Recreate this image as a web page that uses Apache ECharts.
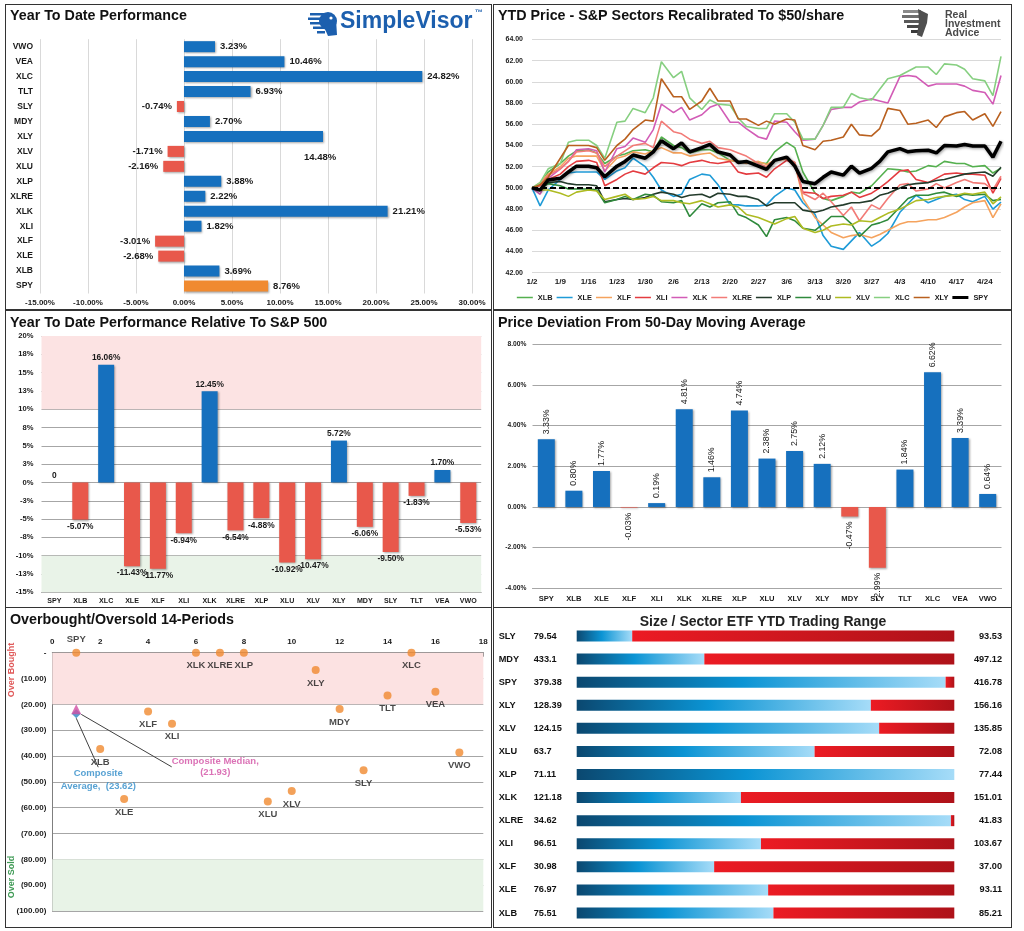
<!DOCTYPE html>
<html><head><meta charset="utf-8">
<script src="https://cdn.jsdelivr.net/npm/echarts/dist/echarts.min.js"></script>
<style>
html,body{margin:0;padding:0;background:#fff;width:1024px;height:931px;overflow:hidden}
.c{position:absolute}
.f{position:absolute;border:1.5px solid #333;box-sizing:border-box;pointer-events:none;z-index:5}
</style></head><body>
<div id="p1" class="c" style="left:6px;top:5px;width:485px;height:304px"></div>
<div id="p2" class="c" style="left:494px;top:5px;width:517px;height:304px"></div>
<div id="p3" class="c" style="left:6px;top:311px;width:485px;height:296px"></div>
<div id="p4" class="c" style="left:494px;top:311px;width:517px;height:296px"></div>
<div id="p5" class="c" style="left:6px;top:608px;width:485px;height:319px"></div>
<div id="p6" class="c" style="left:494px;top:608px;width:517px;height:319px"></div>
<div class="f" style="left:5px;top:4px;width:487px;height:306px"></div>
<div class="f" style="left:493px;top:4px;width:519px;height:306px"></div>
<div class="f" style="left:5px;top:310px;width:487px;height:298px"></div>
<div class="f" style="left:493px;top:310px;width:519px;height:298px"></div>
<div class="f" style="left:5px;top:607px;width:487px;height:321px"></div>
<div class="f" style="left:493px;top:607px;width:519px;height:321px"></div>
<script>
// ---------- DATA ----------
// Panel 1: Year To Date Performance (bottom -> top)
const ytdCats = ['SPY','XLB','XLE','XLF','XLI','XLK','XLRE','XLP','XLU','XLV','XLY','MDY','SLY','TLT','XLC','VEA','VWO'];
const ytdVals = [8.76,3.69,-2.68,-3.01,1.82,21.21,2.22,3.88,-2.16,-1.71,14.48,2.70,-0.74,6.93,24.82,10.46,3.23];

// Panel 2: YTD Price recalibrated to $50
const priceTickLabels = ['1/2','1/9','1/16','1/23','1/30','2/6','2/13','2/20','2/27','3/6','3/13','3/20','3/27','4/3','4/10','4/17','4/24'];
const priceDays = [0,2,4,7,9,11,14,16,18,21,23,25,28,30,32,35,37,39,42,44,46,49,51,53,56,58,60,63,65,67,70,72,74,77,79,81,84,86,88,91,93,95,98,100,102,105,107,109,112,114,116];
const sectorNames = ['XLB','XLE','XLF','XLI','XLK','XLRE','XLP','XLU','XLV','XLC','XLY','SPY'];
const xlb  = [50,50.3,51.5,52.3,53.0,53.5,53.6,53.3,52.3,53.0,53.2,53.5,53.6,53.4,54.8,54.0,53.8,53.3,53.6,53.6,53.3,52.6,52.5,52.4,52.4,52.3,53.4,54.3,53.8,51.5,49.5,49.0,48.8,49.2,49.6,49.5,50.2,51.0,51.8,51.7,51.5,51.6,52.1,52.0,52.5,52.3,52.3,52.0,52.1,51.4,51.85];
const xle  = [50,48.3,49.8,50.8,51.4,51.5,51.5,51.5,50.8,51.6,51.9,52.8,52.0,51.0,49.8,49.2,49.4,50.8,51.3,51.2,50.3,48.4,48.4,48.3,48.3,48.4,49.2,50.0,49.8,48.6,47.5,45.5,44.5,44.2,45.0,45.8,44.5,45.0,45.7,47.7,48.5,49.3,48.6,48.9,49.2,49.4,48.9,48.7,49.2,48.0,48.66];
const xlf  = [50,50.5,51.3,52.0,52.8,53.0,53.0,53.0,51.6,52.8,53.0,53.4,53.2,53.5,53.8,53.3,53.3,53.0,53.2,53.3,52.8,52.6,52.5,52.3,52.5,52.2,52.6,52.7,52.4,49.0,47.2,46.5,45.8,45.3,45.5,45.6,45.3,45.6,46.0,46.6,46.8,46.8,47.0,47.0,47.2,47.7,48.2,48.6,48.8,47.2,48.5];
const xli  = [50,50.2,50.8,51.3,52.0,52.5,52.6,52.4,50.2,50.8,51.3,51.6,51.3,51.9,52.4,52.3,52.1,52.4,52.6,52.4,52.3,52.5,51.5,51.3,51.4,51.0,51.8,52.6,52.2,49.6,49.5,49.0,49.2,49.3,49.6,49.1,49.5,50.0,50.6,51.6,51.7,50.8,50.5,50.9,51.3,51.4,51.3,51.3,51.2,49.5,50.9];
const xlk  = [50,49.4,50.9,51.8,52.5,53.6,53.7,53.5,51.5,53.7,53.9,54.7,54.3,55.5,57.9,57.1,57.6,56.4,56.9,57.6,57.9,56.2,56.2,55.6,54.8,54.6,56.3,56.2,55.3,54.5,54.6,55.9,57.4,57.6,57.6,58.1,58.4,58.2,58.0,60.5,60.6,60.5,59.6,59.8,59.8,59.8,59.6,59.2,59.0,57.9,60.6];
const xlre = [50,50.3,51.2,51.8,52.5,53.4,53.5,53.3,52.0,53.0,53.5,54.0,54.2,53.8,56.3,55.3,55.1,54.6,54.2,54.4,53.8,53.6,53.3,53.0,52.3,52.0,52.6,52.8,52.4,49.5,48.9,49.5,48.7,47.4,48.2,46.9,48.4,48.0,49.0,50.3,50.4,49.7,49.9,50.4,50.0,50.5,50.8,50.5,50.4,49.8,51.1];
const xlp  = [50,49.8,50.5,50.6,50.4,50.3,50.3,50.2,48.7,48.9,49.0,48.9,49.1,49.4,49.6,49.4,49.1,49.3,49.4,49.1,49.5,49.4,49.2,49.2,48.9,48.3,48.6,48.6,48.6,47.9,47.7,47.9,48.2,48.4,48.6,48.6,48.8,49.3,49.5,50.0,50.3,50.4,50.5,50.7,50.8,51.1,51.3,51.4,51.5,51.1,51.94];
const xlu  = [50,49.9,50.4,50.2,49.9,49.9,49.9,49.8,48.6,48.9,49.2,48.9,49.4,49.3,48.7,48.6,48.8,47.3,48.5,48.2,48.6,48.7,47.5,47.2,46.5,45.4,47.0,47.2,46.9,46.2,46.0,46.6,47.3,47.3,46.6,45.4,46.5,46.7,47.0,48.2,49.0,49.3,49.3,49.5,49.6,49.2,49.4,49.3,49.4,48.8,48.92];
const xlv  = [50,49.8,49.8,49.5,49.2,49.6,49.8,49.7,48.9,49.2,49.4,48.9,49.0,49.2,48.8,48.8,48.6,48.5,48.8,48.5,48.2,48.4,48.2,47.5,47.2,46.9,46.6,47.1,47.3,46.2,45.8,46.0,46.4,46.6,46.5,46.9,46.8,47.2,47.6,48.0,48.4,48.8,48.9,49.1,49.2,49.3,49.5,49.4,49.6,48.5,49.15];
const xlc  = [50,50.5,51.8,52.3,54.3,54.5,54.5,54.0,52.8,56.2,56.3,57.5,57.1,58.5,61.9,60.4,61.0,58.5,57.4,58.3,57.9,57.8,56.6,55.8,55.6,55.6,57.0,57.0,56.2,54.6,54.6,55.9,57.6,57.6,58.9,58.5,58.3,59.3,60.3,60.6,61.0,61.4,61.4,60.7,61.7,61.6,61.2,60.3,60.1,58.7,62.4];
const xly  = [50,50.3,51.0,52.8,54.0,54.0,54.0,53.8,52.6,54.0,54.6,55.5,56.4,56.3,60.3,58.6,58.6,57.4,58.2,59.4,58.2,58.2,56.5,56.5,55.9,56.3,56.0,56.5,56.4,54.0,53.6,54.4,54.5,54.8,56.0,55.0,54.9,55.6,57.5,57.3,56.0,56.1,56.4,55.7,56.7,57.1,57.2,56.4,57.0,55.8,57.2];
const spy  = [50,49.8,50.75,50.9,51.5,52.05,52.05,51.9,51.05,52.05,52.5,53.1,52.8,53.4,54.45,53.7,54.25,53.4,53.8,54.1,53.4,53.1,52.4,52.5,52.05,51.75,52.6,52.9,52.05,50.6,50.4,51.0,51.5,51.2,52.05,51.4,51.85,52.5,53.4,53.7,53.4,53.5,53.55,53.3,54.0,53.95,54.1,53.95,53.95,52.9,54.4];
const baseline = 50;

// Panel 3: YTD relative to S&P 500
const relCats = ['SPY','XLB','XLC','XLE','XLF','XLI','XLK','XLRE','XLP','XLU','XLV','XLY','MDY','SLY','TLT','VEA','VWO'];
const relVals = [0,-5.07,16.06,-11.43,-11.77,-6.94,12.45,-6.54,-4.88,-10.92,-10.47,5.72,-6.06,-9.50,-1.83,1.70,-5.53];

// Panel 4: Price deviation from 50-day MA
const devCats = ['SPY','XLB','XLE','XLF','XLI','XLK','XLRE','XLP','XLU','XLV','XLY','MDY','SLY','TLT','XLC','VEA','VWO'];
const devVals = [3.33,0.80,1.77,-0.03,0.19,4.81,1.46,4.74,2.38,2.75,2.12,-0.47,-2.99,1.84,6.62,3.39,0.64];

// Panel 5: Overbought / Oversold
const obNames = ['SPY','XLB','XLE','XLF','XLI','XLK','XLRE','XLP','XLU','XLV','XLY','MDY','SLY','TLT','XLC','VEA','VWO'];
const obX     = [1,2,3,4,5,6,7,8,9,10,11,12,13,14,15,16,17];
const obY     = [0,-37.3,-56.6,-22.8,-27.5,0,0,0,-57.6,-53.5,-6.7,-21.8,-45.5,-16.6,0,-15.1,-38.6];
const compositeMedian = -21.93;
const compositeAverage = -23.62;

// Panel 6: Trading range
const rangeTickers = ['SLY','MDY','SPY','XLY','XLV','XLU','XLP','XLK','XLRE','XLI','XLF','XLE','XLB'];
const rangeLow  = ['79.54','433.1','379.38','128.39','124.15','63.7','71.11','121.18','34.62','96.51','30.98','76.97','75.51'];
const rangeHigh = ['93.53','497.12','416.78','156.16','135.85','72.08','77.44','151.01','41.83','103.67','37.00','93.11','85.21'];
const rangePos  = [0.147,0.338,0.977,0.779,0.801,0.63,1.0,0.435,0.991,0.488,0.364,0.507,0.521];

// ---------- STYLE ----------
function hasFont(name){
  const c=document.createElement('canvas').getContext('2d');
  const s='abcdefghijklmnopqrstuvwXYZ0123456789';
  c.font='20px monospace'; const w1=c.measureText(s).width;
  c.font="20px '"+name+"', monospace"; return c.measureText(s).width!==w1;
}
const HAS_NARROW = hasFont('Liberation Sans Narrow');
const FONT = "'Liberation Sans', Arial, sans-serif";
const NARROW = HAS_NARROW ? "'Liberation Sans Narrow', 'Liberation Sans', Arial, sans-serif" : FONT;
const nfs = s => HAS_NARROW ? s : Math.round(s*0.84*10)/10;
const BLUE = '#1670BE', RED = '#E8584B', ORANGE = '#F08A30';
const TXT = '#1a1a1a';
const GRID = '#A6A6A6';
const shadow = {shadowBlur:2, shadowColor:'rgba(0,0,0,0.35)', shadowOffsetX:1, shadowOffsetY:1};
const titleStyle = {fontSize:14.3, fontWeight:'bold', color:'#111', fontFamily:FONT, lineHeight:17};
function mk(id){ return echarts.init(document.getElementById(id), null, {renderer:'canvas'}); }

// ---------- PANEL 1 ----------
mk('p1').setOption({
  animation:false, textStyle:{fontFamily:FONT},
  title:{text:'Year To Date Performance', left:4, top:2.5, padding:0, textStyle:titleStyle},
  grid:{left:34, right:19, top:34.2, bottom:15.5, containLabel:false, outerBoundsMode:'none'},
  xAxis:{type:'value', min:-15, max:30, interval:5,
    axisLabel:{formatter:v=>v.toFixed(2)+'%', fontSize:8, fontWeight:'bold', color:TXT, margin:5, showMinLabel:true, showMaxLabel:true},
    splitLine:{show:true, lineStyle:{color:'#D9D9D9'}}, axisLine:{show:false}, axisTick:{show:false}},
  yAxis:{type:'category', data:ytdCats, axisLine:{show:false}, axisTick:{show:false},
    axisLabel:{fontSize:8.5, fontWeight:'bold', color:TXT, margin:7, interval:0}},
  series:[{type:'bar', barWidth:11,
    data: ytdVals.map((v,i)=>{
      const d = {value:v, itemStyle:{color: ytdCats[i]==='SPY'?ORANGE:(v<0?RED:BLUE)}, label:{position: v<0?'left':'right'}};
      if (ytdCats[i]==='XLY') d.label = {position:'right', offset:[-24,21]};
      return d;
    }),
    itemStyle:shadow,
    label:{show:true, fontSize:9.5, fontWeight:'bold', color:TXT, distance:5, formatter:p=>p.value.toFixed(2)+'%'}
  }],
  graphic:[
    {type:'group', children:[
      {type:'rect', shape:{x:304,y:8,width:14,height:2.5}, style:{fill:'#1C5FAE'}},
      {type:'rect', shape:{x:302,y:12.5,width:16,height:2.5}, style:{fill:'#1C5FAE'}},
      {type:'rect', shape:{x:304,y:17,width:14,height:2.5}, style:{fill:'#1C5FAE'}},
      {type:'rect', shape:{x:307,y:21.5,width:11,height:2.5}, style:{fill:'#1C5FAE'}},
      {type:'rect', shape:{x:311,y:26,width:8,height:2.5}, style:{fill:'#1C5FAE'}},
      {type:'circle', shape:{cx:322, cy:16, r:9}, style:{fill:'#1C5FAE'}},
      {type:'polygon', shape:{points:[[318,22],[330,14],[331,30],[322,31]]}, style:{fill:'#1C5FAE'}},
      {type:'circle', shape:{cx:325, cy:13, r:1.6}, style:{fill:'#fff'}}
    ]},
    {type:'text', x:334, y:17, style:{text:'SimpleVisor', fill:'#1C5FAE', font:"bold 23px 'Liberation Sans', Arial", verticalAlign:'middle'}},
    {type:'text', x:469, y:8, style:{text:'™', fill:'#1C5FAE', font:"bold 8px 'Liberation Sans', Arial", verticalAlign:'middle'}}
  ]
});

// ---------- PANEL 2 ----------
const lineColors = {XLB:'#55B04F', XLE:'#1F9BD7', XLF:'#F5A35E', XLI:'#E43C40', XLK:'#D25CB6', XLRE:'#F27B77', XLP:'#233B2B', XLU:'#2F8A3C', XLV:'#AEBB22', XLC:'#86CF80', XLY:'#B9601F', SPY:'#000000'};
const lineData = {XLB:xlb, XLE:xle, XLF:xlf, XLI:xli, XLK:xlk, XLRE:xlre, XLP:xlp, XLU:xlu, XLV:xlv, XLC:xlc, XLY:xly, SPY:spy};
const thinIcon = 'path://M0,0H0.01V6H0Z M0,1.8H24V4.2H0Z';
const thickIcon = 'path://M0,0H0.01V6H0Z M0,0.6H24V5.4H0Z';
const lineSeries = sectorNames.map(n=>{
  const isSpy = n==='SPY';
  const s = {type:'line', name:n, symbol:'none', showSymbol:false, z: isSpy?5:2,
    data: priceDays.map((d,i)=>[d, lineData[n][i]]),
    lineStyle:{width: isSpy?3.5:1.6, color:lineColors[n]}, itemStyle:{color:lineColors[n]}};
  if (isSpy){
    s.lineStyle = Object.assign(s.lineStyle, {shadowBlur:3, shadowColor:'rgba(0,0,0,0.4)', shadowOffsetX:1, shadowOffsetY:1});
    s.markLine = {silent:true, symbol:'none', label:{show:false}, data:[{yAxis:baseline}],
      lineStyle:{color:'#000', width:2, type:[6,3]}};
  }
  return s;
});
mk('p2').setOption({
  animation:false, textStyle:{fontFamily:FONT},
  title:{text:'YTD Price - S&P Sectors Recalibrated To $50/share', left:4, top:2.5, padding:0, textStyle:titleStyle},
  grid:{left:38, right:10, top:34.5, bottom:36.3, containLabel:false, outerBoundsMode:'none'},
  legend:{data: sectorNames.map(n=>({name:n, icon: n==='SPY'?thickIcon:thinIcon,
      itemStyle:{color:lineColors[n], borderWidth:0}})),
    top:289, left:'center', padding:0, itemWidth:16, itemHeight:6, itemGap:4,
    textStyle:{fontSize:nfs(8.8), fontWeight:'bold', color:TXT, fontFamily:NARROW}},
  xAxis:{type:'value', min:0, max:116, interval:7,
    axisLabel:{formatter:v=> (v%7===0 && priceTickLabels[v/7]) ? priceTickLabels[v/7] : '', fontSize:8, fontWeight:'bold', color:TXT, margin:5, showMaxLabel:false},
    splitLine:{show:false}, axisLine:{show:false}, axisTick:{show:false}},
  yAxis:{type:'value', min:42, max:64, interval:2,
    axisLabel:{formatter:v=>v.toFixed(2), fontSize:7, fontWeight:'bold', color:TXT, margin:9},
    splitLine:{lineStyle:{color:'#D9D9D9'}}, axisLine:{show:false}, axisTick:{show:false}},
  series: lineSeries,
  graphic:[
    {type:'group', children:[
      {type:'rect', shape:{x:409,y:5,width:18,height:3}, style:{fill:'#8a8a8a'}},
      {type:'rect', shape:{x:408,y:10,width:19,height:3}, style:{fill:'#6f6f6f'}},
      {type:'rect', shape:{x:410,y:15,width:17,height:3}, style:{fill:'#5a5a5a'}},
      {type:'rect', shape:{x:413,y:20,width:14,height:3}, style:{fill:'#4a4a4a'}},
      {type:'rect', shape:{x:417,y:25,width:10,height:3}, style:{fill:'#3a3a3a'}},
      {type:'polygon', shape:{points:[[424,4],[434,9],[433,18],[428,32],[423,30],[425,16]]}, style:{fill:'#4f4f4f'}}
    ]},
    {type:'text', x:451, y:10, style:{text:'Real', fill:'#4a4a4a', font:"bold 10.5px 'Liberation Sans', Arial", verticalAlign:'middle'}},
    {type:'text', x:451, y:19, style:{text:'Investment', fill:'#4a4a4a', font:"bold 10.5px 'Liberation Sans', Arial", verticalAlign:'middle'}},
    {type:'text', x:451, y:28, style:{text:'Advice', fill:'#4a4a4a', font:"bold 10.5px 'Liberation Sans', Arial", verticalAlign:'middle'}}
  ]
});

// ---------- PANEL 3 ----------
const roundPct = v => { const r = Math.sign(v)*Math.round(Math.abs(v)); return (r===0?0:r)+'%'; };
mk('p3').setOption({
  animation:false, textStyle:{fontFamily:FONT},
  title:{text:'Year To Date Performance Relative To S&P 500', left:4, top:3.5, padding:0, textStyle:titleStyle},
  grid:{left:35.5, right:9.8, top:25, bottom:14.7, containLabel:false, outerBoundsMode:'none'},
  xAxis:{type:'category', data:relCats, axisTick:{show:false},
    axisLine:{onZero:false, lineStyle:{color:GRID}},
    axisLabel:{interval:0, fontSize:nfs(8.5), fontWeight:'bold', color:TXT, margin:5, fontFamily:NARROW}},
  yAxis:{type:'value', min:-15, max:20, interval:2.5,
    axisLabel:{formatter:roundPct, fontSize:nfs(9), fontWeight:'bold', color:TXT, margin:8, fontFamily:NARROW},
    splitLine:{lineStyle:{color:GRID}}, axisLine:{show:false}, axisTick:{show:false}},
  series:[{type:'bar', barWidth:16,
    data: relVals.map(v=>({value:v, itemStyle:{color: v<0?RED:BLUE}, label:{position: v<0?'bottom':'top'}})),
    itemStyle:shadow,
    label:{show:true, distance:3, fontSize:nfs(10), fontWeight:'bold', color:TXT, fontFamily:NARROW,
      formatter:p=> p.value===0 ? '0' : p.value.toFixed(2)+'%'},
    markArea:{silent:true, data:[
      [{yAxis:10, itemStyle:{color:'#FCE3E3'}},{yAxis:20}],
      [{yAxis:-10, itemStyle:{color:'#E9F3E8'}},{yAxis:-15}]
    ]}
  }]
});

// ---------- PANEL 4 ----------
mk('p4').setOption({
  animation:false, textStyle:{fontFamily:FONT},
  title:{text:'Price Deviation From 50-Day Moving Average', left:4, top:3.5, padding:0, textStyle:titleStyle},
  grid:{left:38.5, right:9.5, top:33.3, bottom:18.7, containLabel:false, outerBoundsMode:'none'},
  xAxis:{type:'category', data:devCats, axisTick:{show:false},
    axisLine:{onZero:false, lineStyle:{color:GRID}},
    axisLabel:{interval:0, fontSize:nfs(9), fontWeight:'bold', color:TXT, margin:7, fontFamily:NARROW}},
  yAxis:{type:'value', min:-4, max:8, interval:2,
    axisLabel:{formatter:v=>v.toFixed(2)+'%', fontSize:nfs(8), fontWeight:'bold', color:TXT, margin:6, fontFamily:NARROW},
    splitLine:{lineStyle:{color:GRID}}, axisLine:{show:false}, axisTick:{show:false}},
  series:[{type:'bar', barWidth:17,
    data: devVals.map(v=>({value:v, itemStyle:{color: v<0?RED:BLUE},
      label:{position: v<0?'bottom':'top', align: v<0?'right':'left'}})),
    itemStyle:shadow,
    label:{show:true, rotate:90, verticalAlign:'middle', distance:5, fontSize:nfs(10.5), color:TXT, fontFamily:NARROW,
      formatter:p=>p.value.toFixed(2)+'%'}
  }]
});

// ---------- PANEL 5 ----------
mk('p5').setOption({
  animation:false, textStyle:{fontFamily:FONT},
  title:{text:'Overbought/Oversold 14-Periods', left:4, top:3.5, padding:0, textStyle:titleStyle},
  grid:{left:46.3, right:7.7, top:44.7, bottom:16, containLabel:false, outerBoundsMode:'none'},
  xAxis:{type:'value', position:'top', min:0, max:18, interval:2,
    axisLine:{show:true, onZero:false, lineStyle:{color:'#7F7F7F'}},
    axisTick:{show:true, inside:true, length:4, lineStyle:{color:'#7F7F7F'}},
    axisLabel:{fontSize:8, fontWeight:'bold', color:TXT, margin:7},
    splitLine:{show:false}},
  yAxis:{type:'value', min:-100, max:0, interval:10,
    axisLine:{show:true, onZero:false, lineStyle:{color:'#7F7F7F'}}, axisTick:{show:false},
    axisLabel:{formatter:v=> v===0 ? '-' : '('+Math.abs(v).toFixed(2)+')', fontSize:8, fontWeight:'bold', color:TXT, margin:6},
    splitLine:{lineStyle:{color:GRID}}},
  series:[
    {type:'scatter', symbolSize:8, itemStyle:{color:'#F08A30'}, z:3,
      data: obNames.map((n,i)=>({name:n, value:[obX[i], obY[i]], label:{position: n==='SPY'?'top':'bottom'}})),
      label:{show:true, formatter:'{b}', fontSize:9.5, fontWeight:'bold', color:TXT, distance:4},
      markArea:{silent:true, data:[
        [{yAxis:0, itemStyle:{color:'#FCE2E2'}},{yAxis:-20}],
        [{yAxis:-80, itemStyle:{color:'#E8F3E7'}},{yAxis:-100}]
      ]}},
    {type:'scatter', symbol:'diamond', symbolSize:9, itemStyle:{color:'#2E86C1'}, z:4,
      data:[[obX[0], compositeAverage]],
      label:{show:true, position:'inside', align:'center', lineHeight:12.5, fontSize:9.5, fontWeight:'bold', color:'#2E8BC8',
        formatter:p=>'Composite\nAverage,  ('+Math.abs(p.value[1]).toFixed(2)+')'},
      labelLayout:{dx:22, dy:66}, labelLine:{show:true, lineStyle:{color:'#404040', width:1}}},
    {type:'scatter', symbol:'triangle', symbolSize:10, itemStyle:{color:'#D24FA4'}, z:5,
      data:[[obX[0], compositeMedian]],
      label:{show:true, position:'inside', align:'center', lineHeight:11, fontSize:9.5, fontWeight:'bold', color:'#D24FA4',
        formatter:p=>'Composite Median,\n('+Math.abs(p.value[1]).toFixed(2)+')'},
      labelLayout:{dx:139, dy:57.5}, labelLine:{show:true, lineStyle:{color:'#404040', width:1}}}
  ],
  graphic:[
    {type:'text', x:6, y:62, rotation:Math.PI/2, style:{text:'Over Bought', fill:'#E05A5A', font:"bold 9px 'Liberation Sans', Arial", align:'center', verticalAlign:'middle'}},
    {type:'text', x:6, y:269, rotation:Math.PI/2, style:{text:'Over Sold', fill:'#3F9A55', font:"bold 9px 'Liberation Sans', Arial", align:'center', verticalAlign:'middle'}}
  ]
});

// ---------- PANEL 6 ----------
const blueGrad = new echarts.graphic.LinearGradient(0,0,1,0,[{offset:0,color:'#0B4870'},{offset:0.45,color:'#0B94D4'},{offset:1,color:'#A6DCF8'}]);
const redGrad = new echarts.graphic.LinearGradient(0,0,1,0,[{offset:0,color:'#EC1B23'},{offset:1,color:'#AE1219'}]);
mk('p6').setOption({
  animation:false, textStyle:{fontFamily:FONT},
  title:{text:'Size / Sector ETF YTD Trading Range', left:269, top:5.5, textAlign:'center', padding:0,
    textStyle:{fontSize:14, fontWeight:'bold', color:'#222', fontFamily:FONT, lineHeight:17}},
  grid:{left:82.7, right:56.7, top:16.5, bottom:2.5, containLabel:false, outerBoundsMode:'none'},
  xAxis:{type:'value', min:0, max:1, show:false},
  yAxis:[
    {type:'category', data:rangeTickers, inverse:true, position:'left', axisLine:{show:false}, axisTick:{show:false},
      axisLabel:{align:'left', margin:78, interval:0,
        formatter:(v,i)=>'{t|'+v+'}{n|'+rangeLow[i]+'}',
        rich:{t:{width:35, fontFamily:NARROW, fontSize:nfs(11), fontWeight:'bold', color:'#111'},
              n:{fontFamily:NARROW, fontSize:nfs(11), fontWeight:'bold', color:'#111'}}}},
    {type:'category', data:rangeHigh, inverse:true, position:'right', axisLine:{show:false}, axisTick:{show:false},
      axisLabel:{align:'right', margin:47.7, interval:0, fontFamily:NARROW, fontSize:nfs(11), fontWeight:'bold', color:'#111'}}
  ],
  series:[
    {type:'bar', stack:'r', yAxisIndex:0, barWidth:11, data:rangePos, itemStyle:{color:blueGrad}},
    {type:'bar', stack:'r', yAxisIndex:0, barWidth:11, data:rangePos.map(p=>1-p), itemStyle:{color:redGrad}}
  ]
});
</script>
</body></html>
